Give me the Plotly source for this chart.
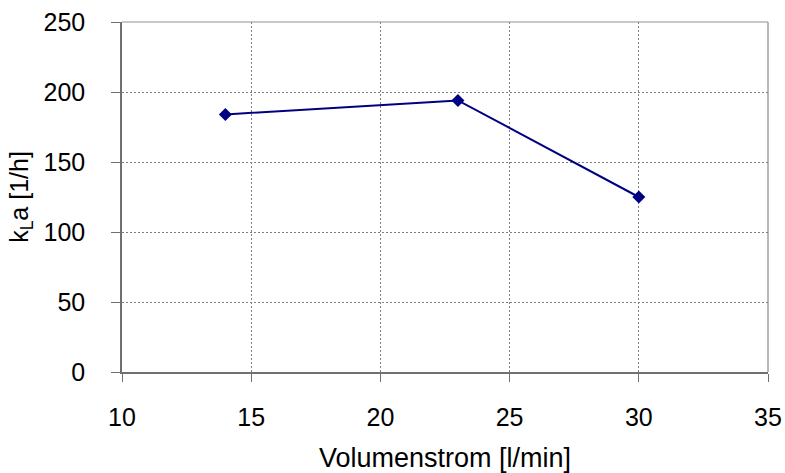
import plotly.graph_objects as go

volumenstrom = [14, 23, 30]
kla = [184, 194, 125]
x_ticks = [10, 15, 20, 25, 30, 35]
y_ticks = [0, 50, 100, 150, 200, 250]

fig = go.Figure()
fig.add_trace(go.Scatter(
    x=volumenstrom, y=kla, mode="lines+markers",
    line=dict(color="#000080", width=2),
    marker=dict(symbol="diamond", size=10, color="#000080"),
    showlegend=False,
))

font = dict(family="Liberation Sans, Arial, sans-serif", size=25, color="#000000")
title_font = dict(family="Liberation Sans, Arial, sans-serif", size=27, color="#000000")

fig.update_layout(
    width=785, height=473,
    margin=dict(l=122, r=17, t=22, b=101),
    paper_bgcolor="white", plot_bgcolor="white",
    font=font,
    xaxis=dict(
        range=[10, 35], tickvals=x_ticks, ticks="outside", ticklen=8,
        tickcolor="#707070", showline=True, linecolor="#707070", linewidth=1.5,
        showgrid=True, gridcolor="#808080", griddash="2px,2px", gridwidth=1,
        zeroline=False, ticklabelstandoff=14, automargin=False,
        title=dict(text="Volumenstrom [l/min]", standoff=19, font=title_font),
    ),
    yaxis=dict(
        range=[0, 250], tickvals=y_ticks, ticks="outside", ticklen=9,
        tickcolor="#707070", showline=True, linecolor="#707070", linewidth=1.5,
        showgrid=True, gridcolor="#808080", griddash="2px,2px", gridwidth=1,
        zeroline=False, ticklabelstandoff=21, automargin=False,
        title=dict(text="k<sub>L</sub>a [1/h]", standoff=8, font=font),
    ),
    shapes=[
        dict(type="line", xref="paper", yref="paper", x0=0, x1=1, y0=1, y1=1,
             line=dict(color="#c8c8c8", width=2), layer="below"),
        dict(type="line", xref="paper", yref="paper", x0=1, x1=1, y0=0, y1=1,
             line=dict(color="#a0a0a0", width=1.5), layer="below"),
    ],
)

fig.write_html("out.html")
